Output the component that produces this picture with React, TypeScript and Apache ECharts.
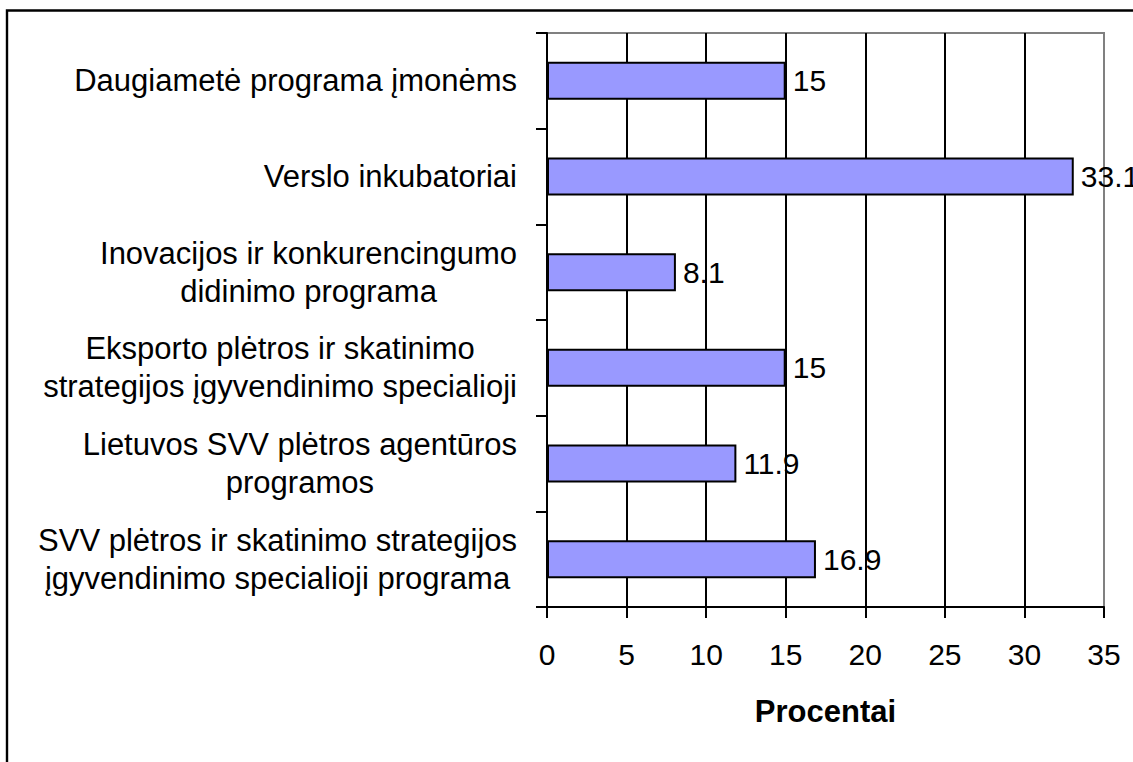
import React, { useEffect, useRef } from "react";
import * as echarts from "echarts";

const categories: string[] = [
  "Daugiametė programa įmonėms",
  "Verslo inkubatoriai",
  "Inovacijos ir konkurencingumo\ndidinimo programa",
  "Eksporto plėtros ir skatinimo\nstrategijos įgyvendinimo specialioji",
  "Lietuvos SVV plėtros agentūros\nprogramos",
  "SVV plėtros ir skatinimo strategijos\nįgyvendinimo specialioji programa",
];
const values: number[] = [15, 33.1, 8.1, 15, 11.9, 16.9];
const axisName = "Procentai";
const xMin = 0;
const xMax = 35;
const xStep = 5;

const FONT = "'Liberation Sans', Arial, Helvetica, sans-serif";

export default function App() {
  const ref = useRef<HTMLDivElement>(null);
  useEffect(() => {
    if (!ref.current) return;
    const chart = echarts.init(ref.current, undefined, { renderer: "svg" });
    chart.setOption({
      animation: false,
      backgroundColor: "#ffffff",
      textStyle: { fontFamily: FONT },
      graphic: [
        {
          type: "rect",
          shape: { x: 7, y: 10.5, width: 1300, height: 900 },
          style: { fill: "none", stroke: "#000", lineWidth: 2.4 },
          silent: true,
          z: 100,
        },
      ],
      grid: {
        left: 547,
        right: 29,
        top: 33,
        bottom: 155,
        show: true,
        borderColor: "#808080",
        borderWidth: 2,
        backgroundColor: "transparent",
      },
      xAxis: {
        type: "value",
        min: xMin,
        max: xMax,
        interval: xStep,
        name: axisName,
        nameLocation: "middle",
        nameGap: 89,
        nameTextStyle: {
          fontFamily: FONT,
          fontSize: 31,
          fontWeight: "bold",
          color: "#000",
        },
        axisLine: { show: true, lineStyle: { color: "#000", width: 2 } },
        axisTick: { show: true, length: 11, lineStyle: { color: "#000", width: 2 } },
        axisLabel: { fontFamily: FONT, fontSize: 30, color: "#000", margin: 32 },
        splitLine: {
          show: true,
          showMinLine: false,
          showMaxLine: false,
          lineStyle: { color: "#000", width: 2 },
        },
      },
      yAxis: {
        type: "category",
        inverse: true,
        data: categories,
        axisLine: { show: true, lineStyle: { color: "#000", width: 2 } },
        axisTick: { show: true, length: 11, lineStyle: { color: "#000", width: 2 } },
        axisLabel: {
          margin: 30,
          color: "#000",
          fontFamily: FONT,
          fontSize: 31,
          lineHeight: 38,
          formatter: (v: string) =>
            v
              .split("\n")
              .map((l) => `{c|${l}}`)
              .join("\n"),
          rich: {
            c: {
              align: "center",
              fontFamily: FONT,
              fontSize: 31,
              lineHeight: 38,
              color: "#000",
            },
          },
        },
        splitLine: { show: false },
      },
      series: [
        {
          type: "bar",
          data: values,
          barWidth: 38,
          itemStyle: { color: "#9999FF", borderColor: "#000", borderWidth: 2 },
          label: {
            show: true,
            position: "right",
            distance: 7,
            fontFamily: FONT,
            fontSize: 30,
            color: "#000",
          },
        },
      ],
    });
    return () => chart.dispose();
  }, []);
  return (
    <div
      ref={ref}
      style={{ position: "fixed", left: 0, top: 0, width: 1133, height: 762, background: "#fff" }}
    />
  );
}
